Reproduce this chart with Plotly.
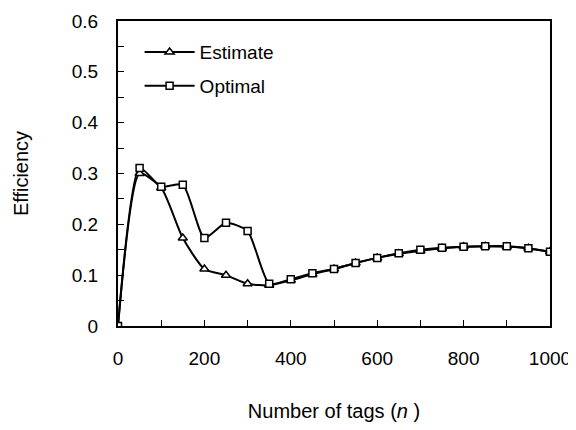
import plotly.graph_objects as go

n_tags = [0, 50, 100, 150, 200, 250, 300, 350, 400, 450, 500, 550, 600, 650, 700, 750, 800, 850, 900, 950, 1000]
estimate = [0, 0.30, 0.272, 0.173, 0.112, 0.10, 0.083, 0.08, 0.09, 0.102, 0.112, 0.124, 0.134, 0.142, 0.148, 0.153, 0.156, 0.157, 0.156, 0.153, 0.146]
optimal = [0, 0.311, 0.274, 0.278, 0.173, 0.203, 0.187, 0.083, 0.092, 0.104, 0.112, 0.124, 0.134, 0.143, 0.15, 0.154, 0.156, 0.157, 0.157, 0.153, 0.146]

FONT = "Liberation Sans, Arial, sans-serif"

fig = go.Figure()
fig.add_trace(go.Scatter(
    x=n_tags, y=estimate, name="Estimate", mode="lines+markers", legendgroup="a",
    line=dict(color="black", width=2, shape="spline", smoothing=0.6),
    marker=dict(symbol="triangle-up", size=8, color="white", line=dict(color="black", width=1.5)),
))
fig.add_trace(go.Scatter(
    x=n_tags, y=optimal, name="Optimal", mode="lines+markers", legendgroup="b",
    line=dict(color="black", width=2, shape="spline", smoothing=0.6),
    marker=dict(symbol="square", size=7, color="white", line=dict(color="black", width=1.5)),
))

fig.update_layout(
    width=568, height=414,
    margin=dict(l=110, r=26, t=13, b=96),
    paper_bgcolor="white", plot_bgcolor="white",
    font=dict(family=FONT, size=19, color="black"),
    showlegend=True,
    legend=dict(x=0.05, y=0.96, xanchor="left", yanchor="top", traceorder="grouped",
                itemwidth=50,
                bgcolor="rgba(0,0,0,0)", font=dict(size=19), tracegroupgap=6),
)
fig.update_xaxes(
    range=[0, 1000], tickvals=[0, 200, 400, 600, 800, 1000], automargin=False,
    ticks="inside", ticklen=6, tickwidth=1, tickcolor="black",
    minor=dict(dtick=100, ticks="inside", ticklen=6, tickcolor="black"),
    showline=True, linecolor="black", linewidth=2, mirror=True,
    showgrid=False, zeroline=False, ticklabelstandoff=14,
    title=dict(text="Number of tags (<i>n</i> )", standoff=36, font=dict(size=20)),
)
fig.update_yaxes(
    range=[0, 0.6], tickvals=[0, 0.1, 0.2, 0.3, 0.4, 0.5, 0.6], automargin=False,
    ticktext=["0", "0.1", "0.2", "0.3", "0.4", "0.5", "0.6"],
    ticks="inside", ticklen=6, tickwidth=1, tickcolor="black",
    minor=dict(dtick=0.05, ticks="inside", ticklen=6, tickcolor="black"),
    showline=True, linecolor="black", linewidth=2, mirror=True,
    showgrid=False, zeroline=False, ticklabelstandoff=14,
    title=dict(text="Efficiency", standoff=38, font=dict(size=20)),
)

fig.write_html("out.html")
